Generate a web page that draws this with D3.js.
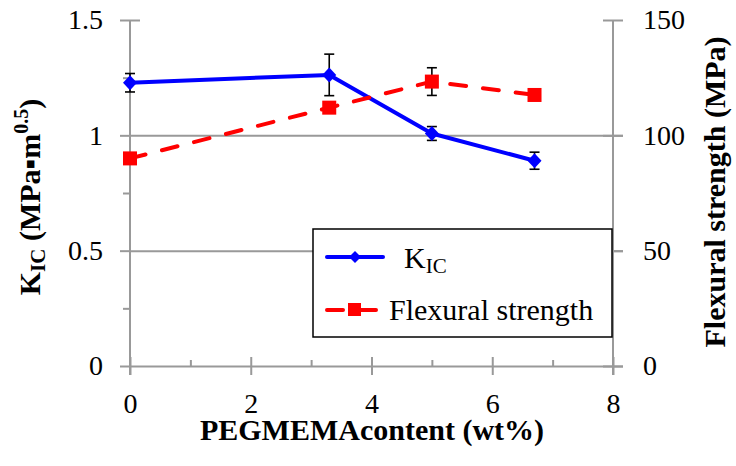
<!DOCTYPE html>
<html>
<head>
<meta charset="utf-8">
<script src="https://cdn.jsdelivr.net/npm/d3@7"></script>
<style>
  body { margin: 0; background: #fff; }
  text, tspan { font-family: "Liberation Serif", serif !important; }
</style>
</head>
<body>
<div id="chart"></div>
<script>
// data
const contents = [0, 3.3, 5, 6.7];
const kicValues = [1.228, 1.262, 1.008, 0.89];
const kicErrors = [0.04, 0.09, 0.03, 0.037];
const flexValues = [90, 112, 123.3, 117.5];
const flexErrors = [0, 0, 6, 0];

const xTicks = [0, 2, 4, 6, 8];
const xMinorTicks = [1, 3, 5, 7];
const kicTicks = [0, 0.5, 1, 1.5];
const kicMinorTicks = [0.25, 0.75, 1.25];
const flexTicks = [0, 50, 100, 150];

const width = 736;
const height = 466;
const plotLeft = 130, plotRight = 613, plotTop = 20, plotBottom = 366;
const axisColour = '#999';
const fontName = '"Liberation Serif", serif';

const svg = d3.select('#chart').append('svg')
    .attr('width', width)
    .attr('height', height)
    .style('font-family', fontName);

// scales
const x = d3.scaleLinear().domain([0, 8]).range([plotLeft, plotRight]);
const yK = d3.scaleLinear().domain([0, 1.5]).range([plotBottom, plotTop]);
const yF = d3.scaleLinear().domain([0, 150]).range([plotBottom, plotTop]);

function styleAxis(g){
    g.attr('font-family', null);
    g.select('.domain').remove();
    g.selectAll('.tick line').attr('stroke', axisColour).attr('stroke-width', 2);
    g.selectAll('.tick text').attr('font-size', 28).attr('fill', '#000');
}

// gridlines at 0, 0.5, 1
svg.append('g')
    .attr('transform', `translate(${plotLeft},0)`)
    .call(d3.axisLeft(yK).tickValues([0, 0.5, 1]).tickSize(-(plotRight - plotLeft + 10)).tickFormat(''))
    .call(styleAxis);

// left axis
const leftAxis = svg.append('g')
    .attr('transform', `translate(${plotLeft},0)`)
    .call(d3.axisLeft(yK).tickValues(kicTicks).tickSize(10).tickPadding(17).tickFormat(d3.format('')))
    .call(styleAxis);
leftAxis.selectAll('.tick line').attr('x1', d => d === 1.5 ? 10 : 0);
svg.append('g')
    .attr('transform', `translate(${plotLeft},0)`)
    .call(d3.axisLeft(yK).tickValues(kicMinorTicks).tickSize(7).tickFormat(''))
    .call(styleAxis);
svg.append('line')
    .attr('x1', plotLeft).attr('x2', plotLeft)
    .attr('y1', yK(1.5)).attr('y2', plotBottom + 9)
    .attr('stroke', axisColour).attr('stroke-width', 2);

// right axis
const rightAxis = svg.append('g')
    .attr('transform', `translate(${plotRight},0)`)
    .call(d3.axisRight(yF).tickValues(flexTicks).tickSize(10).tickPadding(20))
    .call(styleAxis);
rightAxis.selectAll('.tick line').attr('x1', -10);
svg.append('line')
    .attr('x1', plotRight).attr('x2', plotRight)
    .attr('y1', yF(150)).attr('y2', plotBottom + 9)
    .attr('stroke', axisColour).attr('stroke-width', 2);

// x axis
const xAxis = svg.append('g')
    .attr('transform', `translate(0,${plotBottom})`)
    .call(d3.axisBottom(x).tickValues(xTicks).tickSize(9).tickPadding(18))
    .call(styleAxis);
xAxis.selectAll('.tick line').attr('y1', -9);
svg.append('g')
    .attr('transform', `translate(0,${plotBottom})`)
    .call(d3.axisTop(x).tickValues(xMinorTicks).tickSize(6).tickFormat(''))
    .call(styleAxis);

// axis titles
svg.append('text')
    .attr('x', 372)
    .attr('y', 440)
    .attr('text-anchor', 'middle')
    .attr('font-size', 30)
    .attr('font-weight', 'bold')
    .text('PEGMEMAcontent (wt%)');

const leftTitle = svg.append('text')
    .attr('transform', 'translate(40,197) rotate(-90)')
    .attr('text-anchor', 'middle')
    .attr('font-size', 30)
    .attr('font-weight', 'bold');
leftTitle.append('tspan').text('K');
leftTitle.append('tspan').attr('font-size', 21).attr('dy', 5).text('IC');
leftTitle.append('tspan').attr('dy', -5).text(' (MPa');
leftTitle.append('tspan').text('▪');
leftTitle.append('tspan').text('m');
leftTitle.append('tspan').attr('font-size', 20).attr('dy', -12).text('0.5');
leftTitle.append('tspan').attr('dy', 12).text(')');

svg.append('text')
    .attr('transform', 'translate(725,192) rotate(-90)')
    .attr('text-anchor', 'middle')
    .attr('font-size', 30)
    .attr('font-weight', 'bold')
    .text('Flexural strength (MPa)');

const kicData = contents.map((c, i) => ({x: c, y: kicValues[i], e: kicErrors[i]}));
const flexData = contents.map((c, i) => ({x: c, y: flexValues[i], e: flexErrors[i]}));

function errorBars(data, scale){
    const g = svg.append('g').attr('stroke', '#000').attr('stroke-width', 1.6);
    data.filter(d => d.e > 0).forEach(d => {
        const cx = x(d.x), y1 = scale(d.y + d.e), y2 = scale(d.y - d.e);
        g.append('line').attr('x1', cx).attr('x2', cx).attr('y1', y1).attr('y2', y2);
        g.append('line').attr('x1', cx - 5).attr('x2', cx + 5).attr('y1', y1).attr('y2', y1);
        g.append('line').attr('x1', cx - 5).attr('x2', cx + 5).attr('y1', y2).attr('y2', y2);
    });
}

// KIC series
errorBars(kicData, yK);
svg.append('path')
    .datum(kicData)
    .attr('fill', 'none')
    .attr('stroke', '#0000ff')
    .attr('stroke-width', 4)
    .attr('stroke-linejoin', 'round')
    .attr('d', d3.line().x(d => x(d.x)).y(d => yK(d.y)));
svg.append('g').selectAll('path')
    .data(kicData)
    .enter()
    .append('path')
        .attr('d', 'M0,-7.5L7,0L0,7.5L-7,0Z')
        .attr('transform', d => `translate(${x(d.x)},${yK(d.y)})`)
        .attr('fill', '#0000ff');

// flexural series
errorBars(flexData, yF);
svg.append('path')
    .datum(flexData)
    .attr('fill', 'none')
    .attr('stroke', '#ff0000')
    .attr('stroke-width', 4)
    .attr('stroke-linecap', 'round')
    .attr('stroke-dasharray', '16 17')
    .attr('d', d3.line().x(d => x(d.x)).y(d => yF(d.y)));
svg.append('g').selectAll('rect')
    .data(flexData)
    .enter()
    .append('rect')
        .attr('x', d => x(d.x) - 7)
        .attr('y', d => yF(d.y) - 7)
        .attr('width', 14)
        .attr('height', 14)
        .attr('fill', '#ff0000');

// legend
const legend = svg.append('g');
legend.append('rect')
    .attr('x', 313).attr('y', 229)
    .attr('width', 299).attr('height', 108)
    .attr('fill', '#fff')
    .attr('stroke', '#000')
    .attr('stroke-width', 1.5);
legend.append('line')
    .attr('x1', 327).attr('x2', 383).attr('y1', 257).attr('y2', 257)
    .attr('stroke', '#0000ff').attr('stroke-width', 4).attr('stroke-linecap', 'round');
legend.append('path')
    .attr('d', 'M0,-6L6,0L0,6L-6,0Z')
    .attr('transform', 'translate(355,257)')
    .attr('fill', '#0000ff');
const kLabel = legend.append('text')
    .attr('x', 404).attr('y', 268)
    .attr('font-size', 30);
kLabel.append('tspan').text('K');
kLabel.append('tspan').attr('font-size', 21).attr('dy', 5).text('IC');

legend.append('line')
    .attr('x1', 327).attr('x2', 383).attr('y1', 310).attr('y2', 310)
    .attr('stroke', '#ff0000').attr('stroke-width', 4).attr('stroke-linecap', 'round')
    .attr('stroke-dasharray', '16 17');
legend.append('rect')
    .attr('x', 348).attr('y', 303).attr('width', 13).attr('height', 13)
    .attr('fill', '#ff0000');
legend.append('text')
    .attr('x', 389).attr('y', 320)
    .attr('font-size', 30)
    .text('Flexural strength');

svg.selectAll('text').style('font-family', fontName);
</script>
</body>
</html>
